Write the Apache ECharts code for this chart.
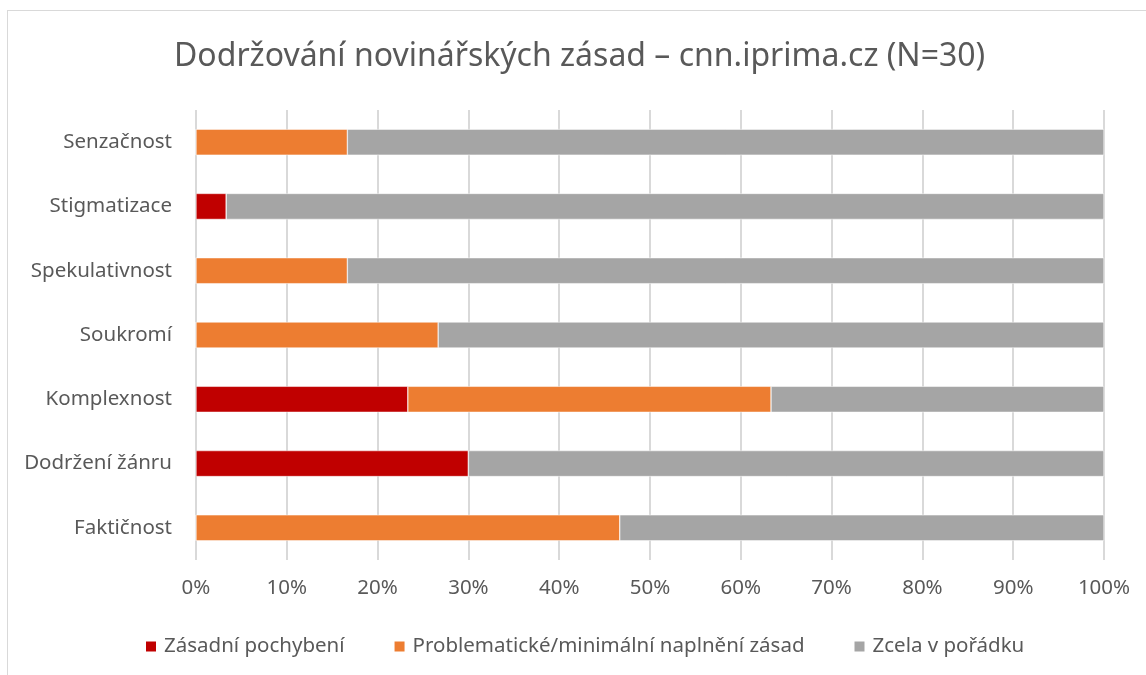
<!DOCTYPE html>
<html>
<head>
<meta charset="utf-8">
<script src="https://cdn.jsdelivr.net/npm/echarts@6/dist/echarts.min.js"></script>
<style>
  html, body { margin: 0; padding: 0; background: #ffffff; }
  #frame {
    position: absolute; left: 7px; top: 10px; width: 1160px; height: 700px;
    border: 1px solid #d9d9d9; box-sizing: border-box;
  }
  #chart { position: absolute; left: 0; top: 0; width: 1146px; height: 675px; }
</style>
</head>
<body>
<div id="frame"></div>
<div id="chart"></div>
<script>
// kategorie shora dolů
const categories = ['Senzačnost', 'Stigmatizace', 'Spekulativnost', 'Soukromí', 'Komplexnost', 'Dodržení žánru', 'Faktičnost']
const seriesNames = ['Zásadní pochybení', 'Problematické/minimální naplnění zásad', 'Zcela v pořádku']
// podíly v % (N=30)
const zasadni = [0, 3.33, 0, 0, 23.33, 30, 0]
const problematicke = [16.67, 0, 16.67, 26.67, 40, 0, 46.67]
const vPoradku = [83.33, 96.67, 83.33, 73.33, 36.67, 70, 53.33]
const xTicks = [0, 10, 20, 30, 40, 50, 60, 70, 80, 90, 100]

const colors = ['#c00000', '#ed7d31', '#a5a5a5']
const font = '"Noto Sans", "Open Sans", sans-serif'

const chart = echarts.init(document.getElementById('chart'))

const makeSeries = (name, data, color) => ({
  name,
  type: 'bar',
  stack: 'total',
  barWidth: 26,
  data,
  itemStyle: { color, borderColor: '#ffffff', borderWidth: 0.5 },
})

chart.setOption({
  animation: false,
  title: {
    text: 'Dodržování novinářských zásad – cnn.iprima.cz (N=30)',
    left: 169,
    top: 36,
    textStyle: { color: '#595959', fontSize: 32, fontWeight: 'normal', fontFamily: font },
  },
  legend: {
    bottom: 13,
    left: 139,
    itemWidth: 12,
    itemHeight: 12,
    itemGap: 48,
    icon: 'rect',
    textStyle: { color: '#595959', fontSize: 20.5, fontFamily: font, padding: [0, 0, 0, 2] },
    data: seriesNames,
  },
  grid: { left: 196, right: 42, top: 110, bottom: 115 },
  xAxis: {
    type: 'value',
    min: 0,
    max: 100,
    interval: 10,
    axisLine: { show: false },
    axisTick: { show: false },
    splitLine: { lineStyle: { color: '#d9d9d9', width: 2 } },
    axisLabel: {
      color: '#595959', fontSize: 20.5, fontFamily: font, margin: 18,
      formatter: (v) => xTicks.includes(v) ? v + '%' : '',
    },
  },
  yAxis: {
    type: 'category',
    inverse: true,
    data: categories,
    axisLine: { show: false },
    axisTick: { show: false },
    axisLabel: { color: '#595959', fontSize: 20.5, fontFamily: font, margin: 24 },
  },
  series: [
    makeSeries(seriesNames[0], zasadni, colors[0]),
    makeSeries(seriesNames[1], problematicke, colors[1]),
    makeSeries(seriesNames[2], vPoradku, colors[2]),
  ],
})
</script>
</body>
</html>
